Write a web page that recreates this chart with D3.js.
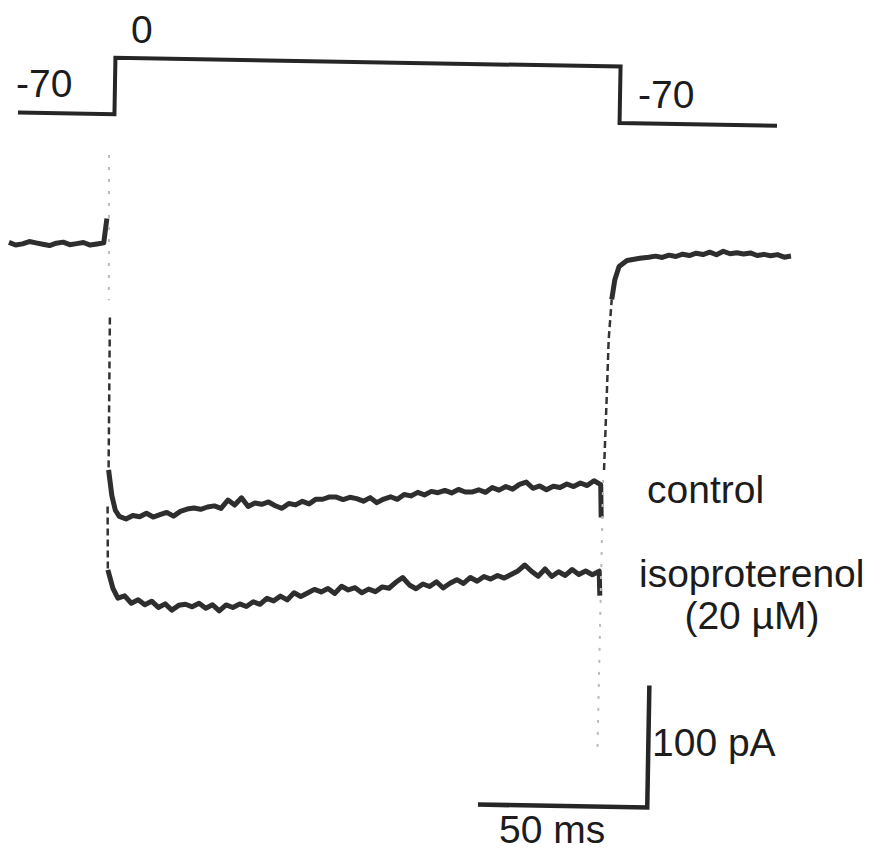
<!DOCTYPE html>
<html>
<head>
<meta charset="utf-8">
<script src="https://cdn.jsdelivr.net/npm/d3@7/dist/d3.min.js"></script>
<style>
body { margin: 0; background: #fff; }
svg text { font-family: "Liberation Sans", Arial, Helvetica, sans-serif; font-size: 39px; fill: #1c1c1c; }
</style>
</head>
<body>
<svg width="884" height="851"></svg>
<script>
// Voltage step and membrane current, control vs isoproterenol

// voltage protocol (ms, mV)
var protocolMs = [-27, 1.5, 1.5, 150.7, 150.7, 197.2];
var protocolMV = [-70, -70, 0, 0, -70, -70];

// current samples, every 2 ms (pA)
var sampleMs = 2;
var baselineStart = -29;
var baselinePA = [0, -2, -1, 1, 0, -1, -2, 0, 1, -1, 0, 1, -1, 0, 1];

var traceStart = 5;
var controlPA = [
    -223, -225, -222, -223, -220, -223, -221, -219, -222, -218,
    -216, -215, -216, -214, -213, -215, -208, -212, -206, -213,
    -210, -211, -209, -212, -214, -210, -211, -208, -210, -206,
    -206, -204, -204, -206, -204, -205, -207, -204, -208, -205,
    -203, -205, -201, -202, -199, -201, -198, -199, -197, -199,
    -196, -198, -198, -196, -198, -194, -196, -193, -195, -191,
    -189, -194, -192, -195, -192, -193, -190, -192, -189, -191,
    -187, -190
];
var isoPA = [
    -290, -288, -294, -291, -295, -292, -297, -294, -299, -295,
    -294, -296, -293, -297, -294, -299, -294, -296, -293, -295,
    -291, -293, -288, -290, -286, -289, -283, -286, -283, -280,
    -282, -279, -283, -277, -280, -278, -282, -279, -281, -277,
    -278, -273, -269, -275, -278, -274, -276, -272, -277, -273,
    -270, -273, -268, -271, -267, -269, -266, -268, -265, -262,
    -257, -262, -266, -260, -266, -262, -265, -260, -264, -261,
    -264, -261
];

var tailStart = 160;
var tailPA = [-3, -2, -3, -1, -2, 0, -1, 1, 0, 2, 0, 3, 1, 2, 1, 2, 0, 1, 0, 1, -1, 0];

// fast parts of the record, read point by point (ms, pA)
var capTop = [[0.1, 73], [0.8, -46]];
var capTail = [[147.4, -405], [147.7, -180]];
var spike = [[-0.2, 21]];
var controlOnsetDash = [[1.2, -60], [1.6, -185]];
var controlOnset = [[1.6, -185], [2.7, -206], [3.8, -218]];
var controlEnd = [[147.3, -217]];
var isoOnsetDash = [[1.5, -215], [1.9, -267]];
var isoOnset = [[1.9, -267], [3.5, -282]];
var isoEnd = [[147.3, -281]];
var tailRiseDash = [[147.9, -178], [148.3, -121], [148.6, -71], [149.3, -38]];
var tailRise = [[149.3, -38], [150.1, -22], [151.3, -11], [153.6, -6], [157.4, -4]];

// calibration bars
var barMs = 50, barPA = 100;
var barCornerMs = 162.4, barCornerPA = -454;

var voltageLabels = ["-70", "0", "-70"];
var traceLabels = ["control", "isoproterenol", "(20 \u00b5M)"];
var barLabels = ["100 pA", "50 ms"];

var svg = d3.select("svg");

// scales (ms -> px, pA -> px, mV -> px)
var x = d3.scaleLinear().domain([0, 50]).range([104, 273.3]);
var y = d3.scaleLinear().domain([0, -100]).range([250, 372]);
var yV = d3.scaleLinear().domain([-70, 0]).range([120, 63.5]);

function series(start, values) {
    return values.map(function (v, i) { return [start + i * sampleMs, v]; });
}

var line = d3.line()
    .x(function (d) { return x(d[0]); })
    .y(function (d) { return y(d[1]); });

// the scanned figure sits about one degree off the horizontal
var g = svg.append("g").attr("transform", "rotate(1, 442, 425)");

// voltage protocol
g.append("path")
    .datum(d3.zip(protocolMs, protocolMV))
    .attr("fill", "none")
    .attr("stroke", "#262626")
    .attr("stroke-width", 4)
    .attr("d", d3.line()
        .x(function (d) { return x(d[0]); })
        .y(function (d) { return yV(d[1]); }));

var solid = [
    series(baselineStart, baselinePA).concat(spike),
    controlOnset.concat(series(traceStart, controlPA), controlEnd),
    isoOnset.concat(series(traceStart, isoPA), isoEnd),
    tailRise.concat(series(tailStart, tailPA))
];

g.selectAll(".trace")
    .data(solid)
    .enter().append("path")
    .attr("class", "trace")
    .attr("fill", "none")
    .attr("stroke", "#2e2e2e")
    .attr("stroke-width", 5)
    .attr("stroke-linejoin", "round")
    .attr("d", line);

// broken segments where the pen moved fast
g.selectAll(".dash")
    .data([controlOnsetDash, isoOnsetDash, tailRiseDash])
    .enter().append("path")
    .attr("class", "dash")
    .attr("fill", "none")
    .attr("stroke", "#333")
    .attr("stroke-width", 2.5)
    .attr("stroke-dasharray", "7,4")
    .attr("d", line);

g.selectAll(".faint")
    .data([capTop, capTail])
    .enter().append("path")
    .attr("class", "faint")
    .attr("fill", "none")
    .attr("stroke", "#bbb")
    .attr("stroke-width", 2)
    .attr("stroke-dasharray", "3,9")
    .attr("d", line);

// calibration bars
g.append("path")
    .datum([[barCornerMs - barMs, barCornerPA], [barCornerMs, barCornerPA], [barCornerMs, barCornerPA + barPA]])
    .attr("fill", "none")
    .attr("stroke", "#262626")
    .attr("stroke-width", 4.5)
    .attr("d", line);

// labels
var labelPos = [
    { x: 16, y: 97, anchor: "start" },
    { x: 131, y: 43, anchor: "start" },
    { x: 638, y: 108, anchor: "start" },
    { x: 647, y: 503, anchor: "start" },
    { x: 639, y: 587, anchor: "start" },
    { x: 752, y: 629, anchor: "middle" },
    { x: 652, y: 756, anchor: "start" },
    { x: 499, y: 843, anchor: "start" }
];

svg.selectAll(".label")
    .data(voltageLabels.concat(traceLabels, barLabels))
    .enter().append("text")
    .attr("class", "label")
    .attr("x", function (d, i) { return labelPos[i].x; })
    .attr("y", function (d, i) { return labelPos[i].y; })
    .attr("text-anchor", function (d, i) { return labelPos[i].anchor; })
    .text(function (d) { return d; });
</script>
</body>
</html>
